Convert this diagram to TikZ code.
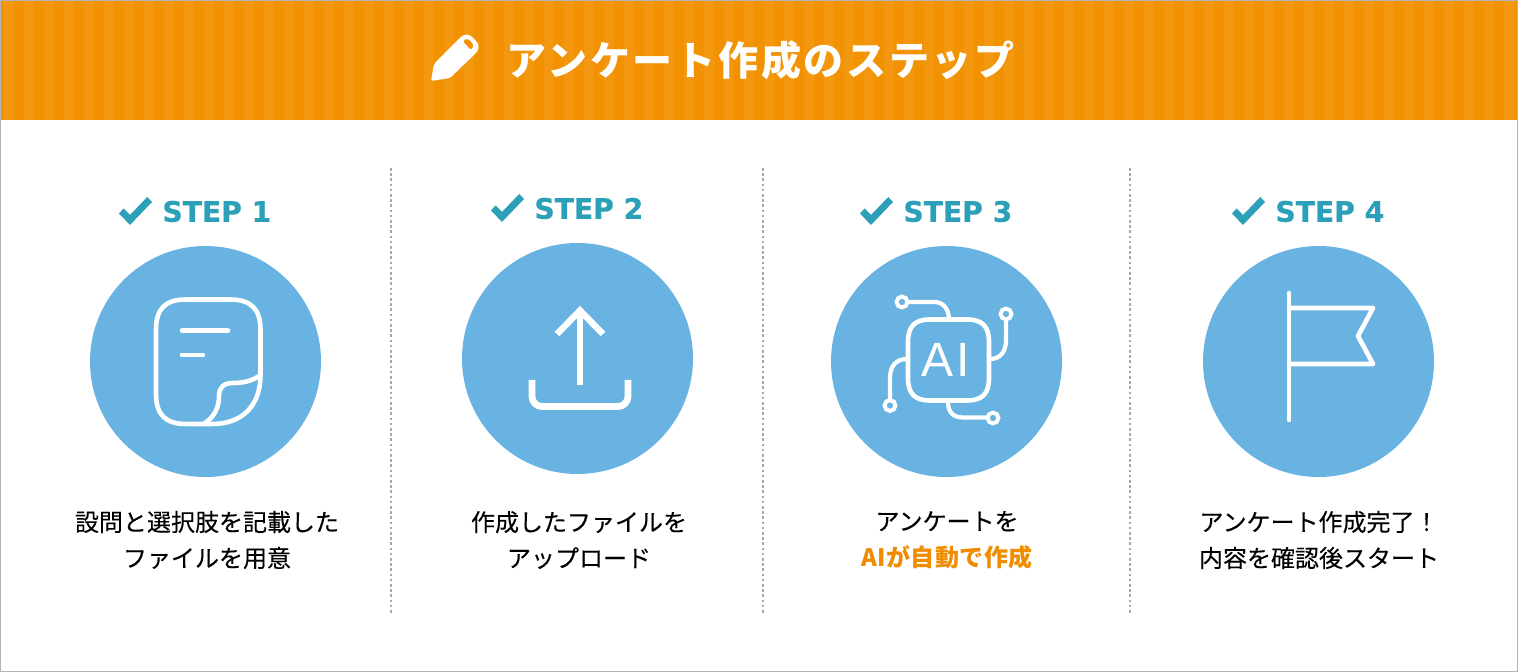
\documentclass[tikz,border=0pt]{standalone}
\usepackage{fontspec}
\setmainfont{Noto Sans CJK JP}
\newfontfamily\stepfont[BoldFeatures={FakeBold=0.6}]{DejaVu Sans}
\newfontfamily\aifont[LetterSpace=7]{Liberation Sans}
\newfontfamily\titlefont[LetterSpace=6.8]{Noto Sans CJK JP}
\newfontfamily\capfont[FakeBold=0.12]{Noto Sans CJK JP}
\newfontfamily\accentfont[LetterSpace=2]{Noto Sans CJK JP}
\definecolor{hdr}{HTML}{F39200}
\definecolor{hdrlight}{HTML}{F49710}
\definecolor{teal}{HTML}{2BA0B8}
\definecolor{disc}{HTML}{69B3E3}
\definecolor{accent}{HTML}{F08C00}
\definecolor{sep}{HTML}{A8A8A8}
\definecolor{framecol}{HTML}{B4B4B4}
\tikzset{
  x=0.5pt,y=-0.5pt,
  icon/.style={draw=white,line width=2.3pt,line cap=round,line join=round},
  iconthin/.style={icon,line width=2.1pt},
  disc/.style={circle,fill=disc,minimum size=115.5pt,inner sep=0pt},
  steplabel/.style={text=teal,font=\stepfont\fontsize{14.1}{18}\selectfont\bfseries,anchor=west,inner sep=0pt},
  caption/.style={font=\capfont\fontsize{12}{18}\selectfont,align=center,text=black,inner sep=0pt},
  sepline/.style={draw=sep,line width=1.4pt,dash pattern=on 1.3pt off 1.3pt},
  tick/.style={fill=teal},
  ringnode/.style={circle,draw=white,line width=2pt,minimum size=5.4pt,inner sep=0pt}
}
\newcommand{\tickmark}[2]{%
  \fill[tick,shift={(#1,#2)}] (119,213.5)--(130,225)--(152,202)--(147.3,197)--(130,215)--(123.5,208.5)--cycle;}
\begin{document}
\begin{tikzpicture}
\useasboundingbox (0,0) rectangle (1518,672);
\fill[white] (0,0) rectangle (1518,672);
% header
\fill[hdr] (0,0) rectangle (1518,120);
\foreach \i in {0,...,75}{
  \fill[hdrlight] ({\i*20+4},0) rectangle ({\i*20+14},120);
}
% pencil
\fill[white,rounded corners=1pt]
  (431,81) -- (434,64) -- (460,38) .. controls (464,34) and (469,34) .. (473,38)
  -- (476,41) .. controls (479,45) and (479,49) .. (476,53) -- (450,78) -- cycle;
\fill[hdr,rounded corners=1pt] (463,41.5) -- (467,38) -- (474,45) -- (471,50) -- cycle;
\node[inner sep=0pt,text=white,font=\titlefont\fontsize{20}{22}\selectfont\bfseries] (title) at (760.5,60) {アンケート作成のステップ};
% separators
\draw[sepline] (391,168) -- (391,615);
\draw[sepline] (763,168) -- (763,615);
\draw[sepline] (1130,168) -- (1130,615);
% step headings
\tickmark{0}{0}\tickmark{372}{-3}\tickmark{741}{0}\tickmark{1113}{0}
\node[steplabel] (s1) at (162,211.5) {STEP 1};
\node[steplabel] (s2) at (534,208.5) {STEP 2};
\node[steplabel] (s3) at (903,211.5) {STEP 3};
\node[steplabel] (s4) at (1275,211.5) {STEP 4};
% discs
\node[disc] (d1) at (205.5,361.5) {};
\node[disc] (d2) at (577.5,358.5) {};
\node[disc] (d3) at (946.5,361.5) {};
\node[disc] (d4) at (1318.5,361.5) {};
% icon 1: note
\draw[icon] (186,299.5) -- (230,299.5) .. controls (251,299.5) and (260.5,309) .. (260.5,330)
  -- (260.5,375) .. controls (260.5,405) and (243,424) .. (212,424)
  -- (186,424) .. controls (165,424) and (156,414) .. (156,394)
  -- (156,330) .. controls (156,309) and (165,299.5) .. (186,299.5) -- cycle;
\draw[icon] (182,330.7) -- (228,330.7);
\draw[icon] (182,355) -- (203,355);
\draw[icon] (259,376) .. controls (252,381) and (243,383) .. (233,383)
  .. controls (223,383) and (219,388) .. (219,396)
  .. controls (219,408) and (214,417) .. (205,423);
% icon 2: upload
\draw[icon,line width=3.2pt,line cap=butt] (580,385) -- (580,312);
\draw[icon,line width=3.2pt,line cap=butt,line join=miter] (557,334) -- (580,310.5) -- (603,334);
\draw[icon,line width=3.4pt,line cap=butt,rounded corners=5pt] (532,380) -- (532,406.5) -- (628,406.5) -- (628,380);
% icon 3: AI
\draw[icon] (930,319.5) -- (967,319.5) .. controls (982,319.5) and (989,326) .. (989,342)
  -- (989,378) .. controls (989,394) and (982,400.5) .. (967,400.5)
  -- (930,400.5) .. controls (915,400.5) and (908,394) .. (908,378)
  -- (908,342) .. controls (908,326) and (915,319.5) .. (930,319.5) -- cycle;
\node[inner sep=0pt,text=white,font=\aifont\fontsize{24}{26}\selectfont] (ai) at (946,360) {AI};
\draw[iconthin] (908,302) -- (934,302) .. controls (943,302) and (948,308) .. (949,318);
\draw[iconthin] (1006,320) -- (1006,340) .. controls (1006,352) and (1000,359) .. (990,359);
\draw[iconthin] (948,402) .. controls (948,412) and (953,417.5) .. (963,417.5) -- (987,417.5);
\draw[iconthin] (907,359) .. controls (896,359) and (890,366) .. (890,378) -- (890,399);
\node[ringnode] (p1) at (902,302) {};
\node[ringnode] (p2) at (1006,314) {};
\node[ringnode] (p3) at (993,418) {};
\node[ringnode] (p4) at (890,405.5) {};
% icon 4: flag
\draw[icon] (1289,293) -- (1289,420);
\draw[icon] (1289,308) -- (1373,308) -- (1358,336) -- (1373,364) -- (1289,364);
% captions
\node[caption] (c1) at (207,540) {設問と選択肢を記載した\\ファイルを用意};
\node[caption] (c2) at (579,540) {作成したファイルを\\アップロード};
\node[caption] (c3) at (947,540) {アンケートを\\{\color{accent}\accentfont\bfseries AIが自動で作成}};
\node[caption] (c4) at (1319,540) {アンケート作成完了！\\内容を確認後スタート};
% frame
\draw[draw=framecol,line width=0.5pt] (0.5,0.5) rectangle (1517.5,671.5);
\end{tikzpicture}
\end{document}
